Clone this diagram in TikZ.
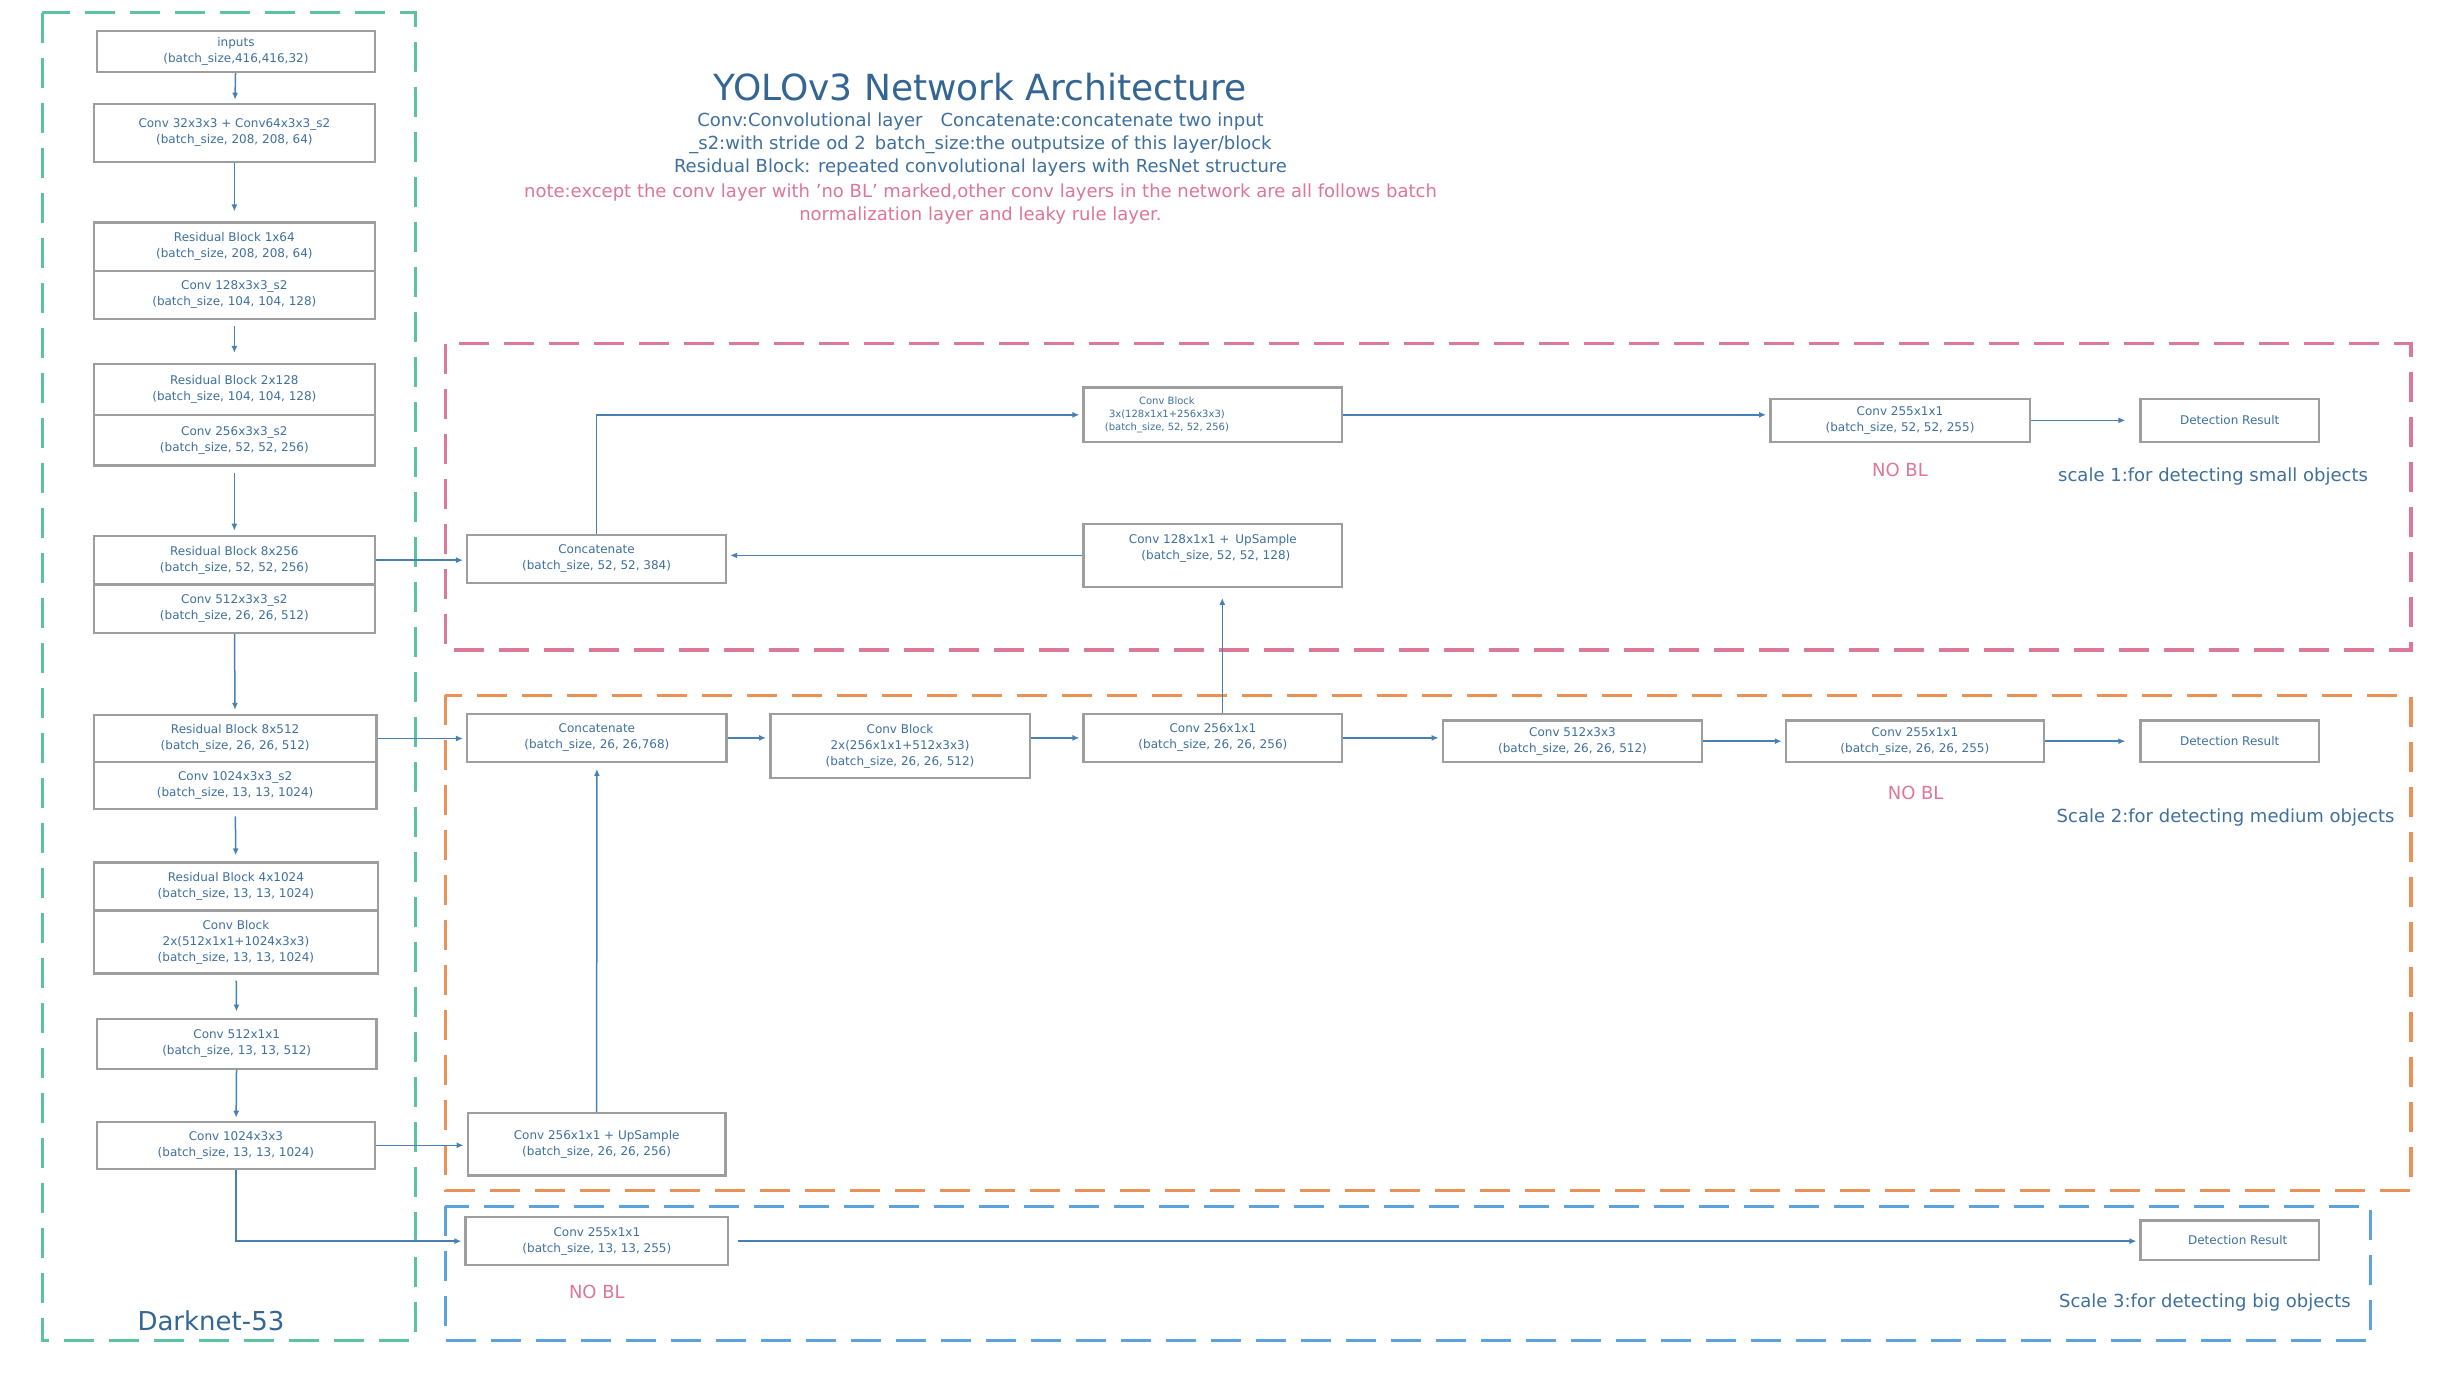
\documentclass[tikz,border=0pt]{standalone}
\usepackage{fontspec}
\setmainfont{DejaVu Sans}
\usetikzlibrary{arrows.meta,calc}
\definecolor{cTeal}{RGB}{90,196,162}
\definecolor{cPinkF}{RGB}{219,122,152}
\definecolor{cOrange}{RGB}{234,146,86}
\definecolor{cBlueF}{RGB}{92,162,220}
\definecolor{cTxt}{RGB}{62,112,158}
\definecolor{cTitle}{RGB}{52,102,148}
\definecolor{cPink}{RGB}{222,118,150}
\definecolor{cBox}{RGB}{158,158,158}
\definecolor{cArr}{RGB}{72,128,180}
% box: [options]{name}{x1}{y1}{x2}{y2}{text}
\newcommand\bxnode[7][]{%
  \pgfmathsetmacro\bxw{(#5-#3)*0.78125}%
  \pgfmathsetmacro\bxh{(#6-#4)*0.78125}%
  \node[box, minimum width=\bxw pt, minimum height=\bxh pt, #1] (#2) at ({(#3+#5)/2},{(#4+#6)/2}) {#7};}
\begin{document}
\begin{tikzpicture}[x=0.78125pt,y=-0.78125pt,
  box/.style={draw=cBox, line width=1.2pt, fill=white, inner sep=0pt, align=center, text=cTxt, font=\fontsize{6}{8}\selectfont},
  arr/.style={draw=cArr, line width=0.75pt, -{Latex[length=3.5pt,width=3pt]}, shorten >=1.5pt},
  frame/.style={line width=1.6pt, dash pattern=on 15pt off 7.5pt},
  nobl/.style={text=cPink, font=\fontsize{9}{11}\selectfont},
  scalelbl/.style={text=cTxt, font=\fontsize{9}{11}\selectfont, anchor=east}]
\useasboundingbox (0,0) rectangle (1568,881);
\fill[white] (0,0) rectangle (1568,881);

% group frames
\draw[frame, draw=cTeal] (27,8) rectangle (266,858);
\draw[frame, draw=cPinkF] (285,220) rectangle (1543,416);
\draw[frame, draw=cOrange] (285,445) rectangle (1543,762);
\draw[frame, draw=cBlueF] (285,772) rectangle (1517,858);

% titles
\node[text=cTitle, font=\fontsize{18}{22}\selectfont] (title) at (627,56) {YOLOv3 Network Architecture};
\node[text=cTxt, font=\fontsize{9}{11.7}\selectfont, align=center] (sub) at (627.5,92.5)
  {Conv:Convolutional layer\quad Concatenate:concatenate two input\\
   \_s2:with stride od 2\enspace batch\_size:the outputsize of this layer/block\\
   Residual Block: repeated convolutional layers with ResNet structure};
\node[text=cPink, font=\fontsize{9}{11.7}\selectfont, align=center] (note) at (627.5,130.5)
  {note:except the conv layer with 'no BL' marked,other conv layers in the network are all follows batch\\
   normalization layer and leaky rule layer.};
\node[text=cTitle, font=\fontsize{13}{16}\selectfont] (dn) at (135,845) {Darknet-53};

% Darknet column
\bxnode{in}{62}{20}{240}{46}{inputs\\(batch\_size,416,416,32)}
\bxnode{c0}{60}{66.5}{240}{103.5}{Conv 32x3x3 + Conv64x3x3\_s2\\(batch\_size, 208, 208, 64)}
\bxnode{r1a}{60}{142.5}{240}{173.3}{Residual Block 1x64\\(batch\_size, 208, 208, 64)}
\bxnode{r1b}{60}{173.3}{240}{204}{Conv 128x3x3\_s2\\(batch\_size, 104, 104, 128)}
\bxnode{r2a}{60}{233}{240}{265.6}{Residual Block 2x128\\(batch\_size, 104, 104, 128)}
\bxnode{r2b}{60}{265.6}{240}{298}{Conv 256x3x3\_s2\\(batch\_size, 52, 52, 256)}
\bxnode{r3a}{60}{343}{240}{374}{Residual Block 8x256\\(batch\_size, 52, 52, 256)}
\bxnode{r3b}{60}{374}{240}{405}{Conv 512x3x3\_s2\\(batch\_size, 26, 26, 512)}
\bxnode{r4a}{60}{457.6}{241}{487.7}{Residual Block 8x512\\(batch\_size, 26, 26, 512)}
\bxnode{r4b}{60}{487.7}{241}{517.8}{Conv 1024x3x3\_s2\\(batch\_size, 13, 13, 1024)}
\bxnode{r5a}{60}{552}{242}{582.6}{Residual Block 4x1024\\(batch\_size, 13, 13, 1024)}
\bxnode{r5b}{60}{582.6}{242}{623}{Conv Block\\2x(512x1x1+1024x3x3)\\(batch\_size, 13, 13, 1024)}
\bxnode{c6}{62}{652}{241}{684}{Conv 512x1x1\\(batch\_size, 13, 13, 512)}
\bxnode{c7}{62}{718}{240}{748}{Conv 1024x3x3\\(batch\_size, 13, 13, 1024)}

% scale 1
\bxnode{cat52}{299}{342.4}{464.6}{373}{Concatenate\\(batch\_size, 52, 52, 384)}
\bxnode[label={[xshift=-23pt, text=cTxt, align=center, font=\fontsize{5}{6.6}\selectfont]center:{Conv Block\\3x(128x1x1+256x3x3)\\(batch\_size, 52, 52, 256)}}]{cb52}{693.5}{248}{859}{283}{}
\bxnode[label={[yshift=3.5pt, text=cTxt, align=center, font=\fontsize{6}{8}\selectfont]center:{Conv 128x1x1 +\enspace UpSample\\\enspace(batch\_size, 52, 52, 128)}}]{up52}{693.5}{335.4}{859}{375.5}{}
\bxnode{o52}{1133}{255.4}{1299}{282.7}{Conv 255x1x1\\(batch\_size, 52, 52, 255)}
\bxnode{d52}{1370}{255.4}{1484}{282.7}{Detection Result}
\node[nobl] (nb52) at (1216,301) {NO BL};
\node[scalelbl] (s1) at (1520,304.7) {scale 1:for detecting small objects};

% scale 2
\bxnode{cat26}{299}{457}{465}{487.5}{Concatenate\\(batch\_size, 26, 26,768)}
\bxnode{cb26}{493}{457}{659}{498}{Conv Block\\2x(256x1x1+512x3x3)\\(batch\_size, 26, 26, 512)}
\bxnode{c26}{693.5}{457}{859}{487.5}{Conv 256x1x1\\(batch\_size, 26, 26, 256)}
\bxnode{c26b}{923.4}{461}{1089.4}{487.7}{Conv 512x3x3\\(batch\_size, 26, 26, 512)}
\bxnode{o26}{1143}{461}{1308}{487.7}{Conv 255x1x1\\(batch\_size, 26, 26, 255)}
\bxnode{d26}{1370}{461}{1484}{487.7}{Detection Result}
\node[nobl] (nb26) at (1226,507.6) {NO BL};
\node[scalelbl] (s2) at (1537,523) {Scale 2:for detecting medium objects};
\bxnode{up26}{299.4}{712.5}{464.3}{752.4}{Conv 256x1x1 + UpSample\\(batch\_size, 26, 26, 256)}

% scale 3
\bxnode{o13}{298}{779}{466}{809.6}{Conv 255x1x1\\(batch\_size, 13, 13, 255)}
\bxnode{d13}{1370}{781}{1484}{806.4}{\hspace{8pt}Detection Result}
\node[nobl] (nb13) at (382,826.7) {NO BL};
\node[scalelbl] (s3) at (1509,833.7) {Scale 3:for detecting big objects};

% Darknet connectors
\draw[arr] (in) -- (c0);
\draw[arr, shorten >=5pt] (c0) -- (r1a);
\draw[arr, shorten <=3pt, shorten >=5pt] (r1b) -- (r2a);
\draw[arr, shorten <=3pt, shorten >=2pt] (r2b) -- (r3a);
\draw[arr, shorten >=2pt] (r3b) -- (r4a);
\draw[arr, shorten <=3pt, shorten >=3pt] (r4b) -- (r5a);
\draw[arr, shorten <=3pt, shorten >=3pt] (r5b) -- (c6);
\draw[arr] (c6) -- (c7);

% scale 1 connectors
\draw[arr] (r3a.east) -- (r3a.east -| cat52.west);
\draw[arr] (cat52.north) |- (cb52.west);
\draw[arr] (cb52.east) -- (cb52.east -| o52.west);
\draw[arr, shorten >=7pt] (o52.east) -- (d52.west);
\draw[arr] (up52.west) -- (up52.west -| cat52.east);
\draw[arr, shorten >=5pt] ([xshift=4.7pt]c26.north) -- ([xshift=4.7pt]up52.south);

% scale 2 connectors
\draw[arr] (r4a.east) -- (r4a.east -| cat26.west);
\draw[arr] (cat26.east) -- (cat26.east -| cb26.west);
\draw[arr] (c26.west -| cb26.east) -- (c26.west);
\draw[arr] (c26.east) -- (c26.east -| c26b.west);
\draw[arr] (c26b.east) -- (c26b.east -| o26.west);
\draw[arr, shorten >=7pt] (o26.east) -- (o26.east -| d26.west);
\draw[arr] (c7.east) -- (c7.east -| up26.west);
\draw[arr, shorten >=3pt] (up26.north) -- (cat26.south);

% scale 3 connectors
\draw[arr] (c7.south) |- (o13.west);
\draw[arr, shorten <=4.5pt] (o13.east) -- (o13.east -| d13.west);
\end{tikzpicture}
\end{document}
